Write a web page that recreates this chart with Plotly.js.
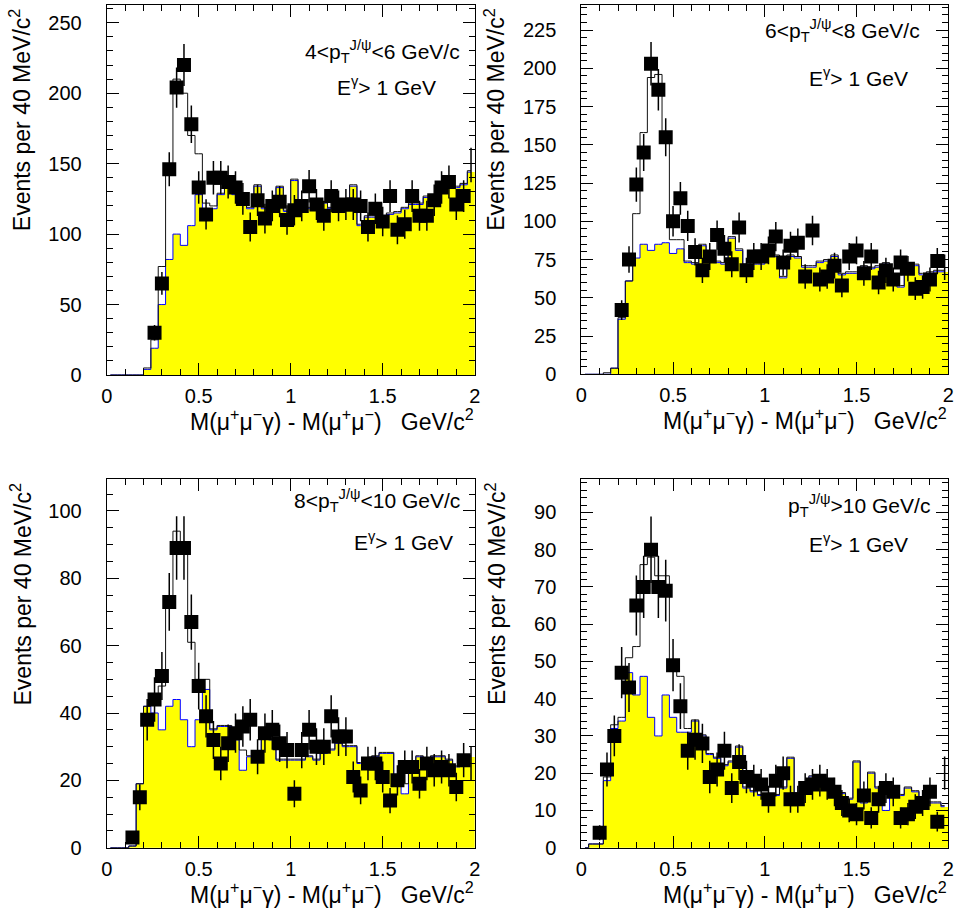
<!DOCTYPE html>
<html>
<head>
<meta charset="utf-8">
<script src="https://cdn.plot.ly/plotly-3.0.1.min.js"></script>
<style>html,body{margin:0;padding:0;background:#fff;}</style>
</head>
<body>
<div id="chart" style="width:958px;height:916px;"></div>
<script>
// ---- data (50 bins of 40 MeV from 0 to 2 GeV) ----
const data1 = [null,null,null,null,null,null,30,65,146,204,220,178,133,114,140,140,137,133,125,105,124,111,120,123,110,117,120,134,121,113,127,120,121,121,120,105,118,109,127,103,107,127,113,113,124,133,137,121,127,149];
const bg1 = [0,0,0,0,0,4,19,50,82,100,92,106,128,117,118,128,133,128,121,118,134,118,117,133,116,138,116,118,120,122,118,122,120,134,106,112,112,112,114,115,118,121,121,126,126,133,137,133,135,144];
const total1 = [0,0,0,0,0,5,25,77,150,210,200,170,157,122,120,129,134,129,122,119,135,119,118,134,117,139,117,119,121,123,119,123,121,135,107,113,113,113,115,116,119,122,122,127,127,134,138,134,136,145];

const data2 = [null,null,null,null,null,42,75,124,145,203,186,155,100,115,97,80,68,77,91,82,72,96,68,77,77,81,90,73,84,86,64,94,62,64,71,58,77,81,66,77,60,68,62,73,69,56,57,62,74,70];
const bg2 = [0,0,0,0,4,36,61,76,85,81,85,86,79,82,73,72,84,74,73,72,89,81,71,72,72,77,77,63,77,76,70,70,73,74,77,65,66,66,70,69,70,72,64,57,72,71,65,66,67,67];
const total2 = [0,0,0,1,4,37,61,105,158,194,196,153,88,88,74,73,85,75,74,73,90,82,72,73,73,78,78,64,78,77,71,71,74,75,78,66,67,67,71,70,71,73,65,58,73,72,66,67,68,68];

const data3 = [null,null,null,3,15,38,44,51,73,89,89,67,48,39,32,25,31,34,36,38,27,34,35,31,29,16,29,35,30,30,39,33,33,21,17,25,25,21,14,20,24,24,19,25,23,24,23,18,26,25];
const bg3 = [0,0,0,0.5,19,42,40,35,42,44,38,30,38,47,35,36,36,32,23,27,28,33,32,26,26,26,26,27,26,28,29,31,30,30,25,24,27,28,28,19,16,24,27,26,27,27,26,24,27,27];
const total3 = [0,0,0,0.5,19,42,43,48,74,94,89,61,50,50,35.3,36.3,36.3,32.3,29,27.3,28.3,33.3,32.3,26.3,26.3,26.3,26.3,27.3,26.3,28.3,29.3,31.3,30.3,30.3,25.3,24.3,27.3,28.3,28.3,21,19,24.3,27.3,26.3,27.3,27.3,26.3,24.3,27.3,27.3];

const data4 = [null,null,4,21,30,47,43,65,70,80,70,69,49,38,26,29,28,19,21,26,16,23,19,18,17,13,18,20,13,13,16,17,18,17,15,12,10,9,14,8,13,16,15,8,9,11,12,15,7,20];
const bg4 = [0,1,1,18,32,34,47,41,46,35,30,41,35,31,31,34,30,25,24,22,23,27,16,15,14,12.5,14,16,24,12,16.5,19,18,17,16,14.5,13,23,12,20,16,10,14,14,16,15,13,12,12,11];
const total4 = [0,1,1,19,33,35,51,54,76,78,73,73,49,46,32,34.3,30.3,25.3,24.3,22.3,23.3,27.3,16.3,15.3,14.3,12.8,14.3,16.3,24.3,12.3,16.8,19.3,18.3,17.3,16.3,14.8,13.3,23.3,12.3,20.3,16.3,17,14.3,14.3,16.3,15.3,13.3,12.3,12.3,11.3];

const ptLabels = ["4&lt;p<sub>T</sub><sup>J/ψ</sup>&lt;6 GeV/c",
                  "6&lt;p<sub>T</sub><sup>J/ψ</sup>&lt;8 GeV/c",
                  "8&lt;p<sub>T</sub><sup>J/ψ</sup>&lt;10 GeV/c",
                  "p<sub>T</sub><sup>J/ψ</sup>&gt;10 GeV/c"];
const eLabel = "E<sup>γ</sup>&gt; 1 GeV";
const xTitle = "M(μ<sup>+</sup>μ<sup>−</sup>γ) - M(μ<sup>+</sup>μ<sup>−</sup>)&nbsp;&nbsp;&nbsp;GeV/c<sup>2</sup>";
const yTitle = "Events per 40 MeV/c<sup>2</sup>";

// ---- layout geometry ----
const W = 958, H = 916;
const FONT = "Liberation Sans, Arial, Helvetica, sans-serif";
const px = x => x / W;
const py = y => 1 - y / H;

const panels = [
  {data: data1, bg: bg1, total: total1, xd: [106.7, 474.7], yd: [375, 5],   ymax: 262.6, dy: 50, minor: 10, lab: ptLabels[0], l1: [462, 51], l2: [438, 86]},
  {data: data2, bg: bg2, total: total2, xd: [581.3, 948.3], yd: [374.3, 5], ymax: 241.4, dy: 25, minor: 5,  lab: ptLabels[1], l1: [922, 31], l2: [910, 77]},
  {data: data3, bg: bg3, total: total3, xd: [106.7, 474.7], yd: [847.7, 479.3], ymax: 109.4, dy: 20, minor: 5, lab: ptLabels[2], l1: [462, 500], l2: [455, 541]},
  {data: data4, bg: bg4, total: total4, xd: [581.3, 948.3], yd: [847.7, 479.3], ymax: 98.9, dy: 10, minor: 2,  lab: ptLabels[3], l1: [932, 505], l2: [910, 543]}
];

const traces = [];
const layout = {
  width: W, height: H,
  margin: {l: 0, r: 0, t: 0, b: 0},
  paper_bgcolor: "white", plot_bgcolor: "white",
  showlegend: false, bargap: 0,
  font: {family: FONT, size: 20, color: "black"},
  annotations: []
};

panels.forEach((p, k) => {
  const n = k + 1;
  const xa = "x" + (n === 1 ? "" : n), ya = "y" + (n === 1 ? "" : n);
  const common = {xaxis: xa, yaxis: ya, x0: 0.02, dx: 0.04, hoverinfo: "skip"};
  traces.push(Object.assign({type: "bar", y: p.bg, width: 0.04,
    marker: {color: "#ffff00", line: {width: 0}}}, common));
  traces.push(Object.assign({type: "scatter", mode: "lines", y: p.bg,
    line: {shape: "hvh", color: "#0000ff", width: 1}}, common));
  traces.push(Object.assign({type: "scatter", mode: "lines", y: p.total,
    line: {shape: "hvh", color: "#111111", width: 1}}, common));
  const sizes = p.data.map((v, i) => i === p.data.length - 1 ? 0 : 14);
  traces.push(Object.assign({type: "scatter", mode: "markers", y: p.data,
    marker: {symbol: "square", size: sizes, color: "black", opacity: 1, line: {width: 0}},
    error_y: {type: "sqrt", visible: true, width: 0, thickness: 1.5, color: "black"},
    cliponaxis: true}, common));

  const axBase = {showgrid: false, zeroline: false, showline: true, linecolor: "black", linewidth: 1,
    mirror: "allticks", ticks: "inside", tickcolor: "black", tickwidth: 1, ticklen: 12,
    tickfont: {family: FONT, size: 20, color: "black"}, fixedrange: true};
  layout["xaxis" + (n === 1 ? "" : n)] = Object.assign({}, axBase, {
    domain: [px(p.xd[0]), px(p.xd[1])], anchor: ya, range: [0, 2], tick0: 0, dtick: 0.5,
    minor: {dtick: 0.1, ticks: "inside", ticklen: 6, tickcolor: "black"},
    ticklabelstandoff: 3
  });
  layout["yaxis" + (n === 1 ? "" : n)] = Object.assign({}, axBase, {
    domain: [py(p.yd[0]), py(p.yd[1])], anchor: xa, range: [0, p.ymax], tick0: 0, dtick: p.dy,
    minor: {dtick: p.minor, ticks: "inside", ticklen: 6, tickcolor: "black"},
    ticklabelstandoff: 20
  });

  // axis titles
  const bottomY = p.yd[0];
  layout.annotations.push({xref: "paper", yref: "paper", x: px(p.xd[1] + 1), y: py(bottomY + 45),
    xanchor: "right", yanchor: "middle", text: xTitle, showarrow: false,
    font: {family: FONT, size: 23, color: "black"}});
  layout.annotations.push({xref: "paper", yref: "paper", x: px(p.xd[0] - 86), y: py(p.yd[1] + 1),
    xanchor: "center", yanchor: "top", text: yTitle, showarrow: false, textangle: -90,
    font: {family: FONT, size: 23, color: "black"}});
  // panel labels
  layout.annotations.push({xref: "paper", yref: "paper", x: px(p.l1[0]), y: py(p.l1[1]),
    xanchor: "right", yanchor: "middle", text: p.lab, showarrow: false,
    font: {family: FONT, size: 21, color: "black"}});
  layout.annotations.push({xref: "paper", yref: "paper", x: px(p.l2[0]), y: py(p.l2[1]),
    xanchor: "right", yanchor: "middle", text: eLabel, showarrow: false,
    font: {family: FONT, size: 21, color: "black"}});
});

Plotly.newPlot("chart", traces, layout, {displayModeBar: false, staticPlot: true});
</script>
</body>
</html>
